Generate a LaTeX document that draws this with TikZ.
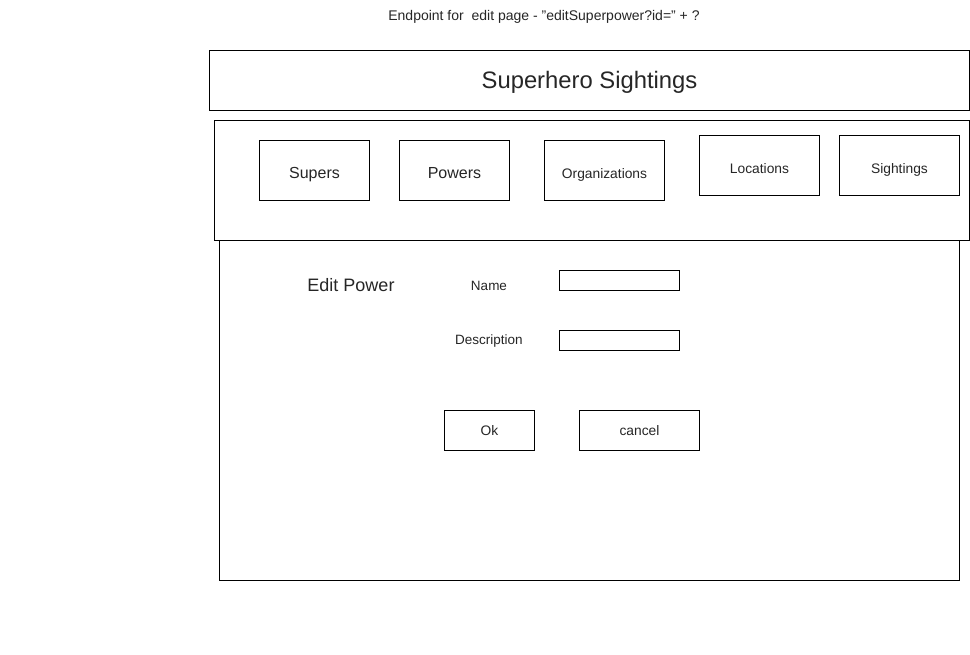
\documentclass[tikz,border=0pt]{standalone}
\usepackage{fontspec}
\setmainfont{Liberation Sans}
\begin{document}
\begin{tikzpicture}[x=1pt,y=-1pt,
  box/.style={draw=black,line width=1pt,fill=white,inner sep=0pt,anchor=north west,text=black!85,text depth=0pt},
  lbl/.style={inner sep=0pt,text=black!85,font=\fontsize{13.5}{16}\selectfont}]
\useasboundingbox[fill=white] (0,0) rectangle (970,655);
\node[lbl,font=\fontsize{14}{16}\selectfont] (endpoint) at (544,16.5) {Endpoint for~ edit page - \symbol{34}editSuperpower?id=\symbol{34} + ?};
\node[box,minimum width=760pt,minimum height=60pt,text height=17pt,font=\fontsize{23.8}{28}\selectfont] (title) at (209,50) {Superhero Sightings};
\node[box,minimum width=740pt,minimum height=340pt] (main) at (219,240) {};
\node[box,minimum width=755pt,minimum height=120pt] (nav) at (214,120) {};
\node[box,minimum width=110pt,minimum height=60pt,text height=15.5pt,font=\fontsize{16}{19}\selectfont] (supers) at (259,140) {Supers};
\node[box,minimum width=110pt,minimum height=60pt,text height=15.5pt,font=\fontsize{16}{19}\selectfont] (powers) at (399,140) {Powers};
\node[box,minimum width=120pt,minimum height=60pt,text height=16pt,font=\fontsize{13.8}{16}\selectfont] (orgs) at (544,140) {Organizations};
\node[box,minimum width=120pt,minimum height=60pt,text height=16pt,font=\fontsize{13.8}{16}\selectfont] (locs) at (699,135) {Locations};
\node[box,minimum width=120pt,minimum height=60pt,text height=16pt,font=\fontsize{13.8}{16}\selectfont] (sights) at (839,135) {Sightings};
\node[inner sep=0pt,text=black!85,font=\fontsize{18}{21}\selectfont] (editpower) at (351,285) {Edit Power};
\node[lbl] (name) at (489,286) {Name};
\node[lbl] (desc) at (489,341.5) {Description};
\node[box,minimum width=120pt,minimum height=20pt] (namein) at (559,270) {};
\node[box,minimum width=120pt,minimum height=20pt] (descin) at (559,330) {};
\node[box,minimum width=90pt,minimum height=40pt,text height=10pt,font=\fontsize{13.8}{16}\selectfont] (ok) at (444,410) {Ok};
\node[box,minimum width=120pt,minimum height=40pt,text height=10pt,font=\fontsize{13.8}{16}\selectfont] (cancel) at (579,410) {cancel};
\end{tikzpicture}
\end{document}
